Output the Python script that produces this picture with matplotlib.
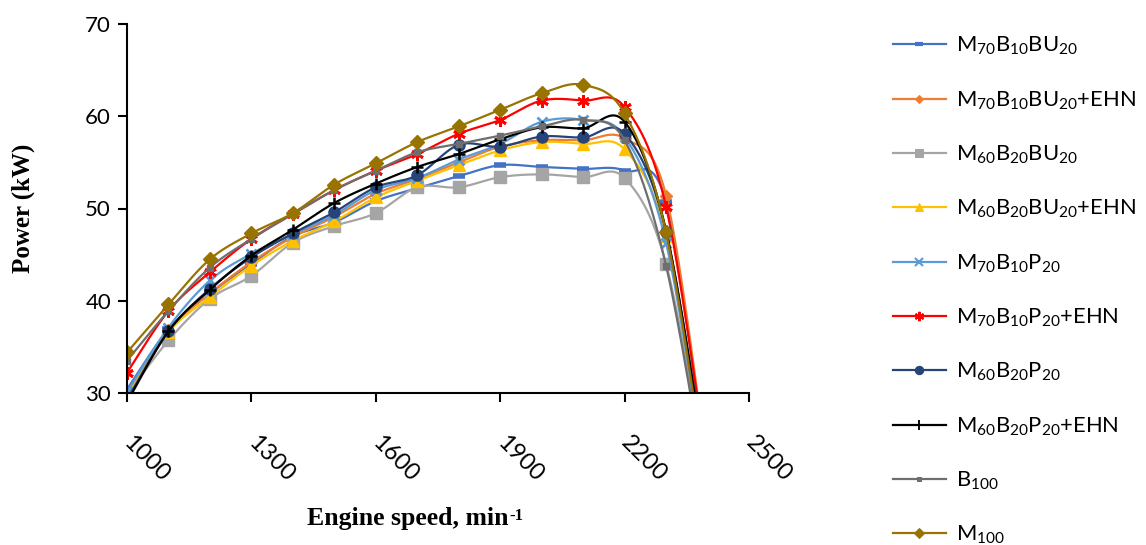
#!/usr/bin/env python

import numpy as np
import matplotlib
matplotlib.use('Agg')
import matplotlib.pyplot as plt

plt.rcParams['font.family'] = ['Lato', 'DejaVu Sans']
plt.rcParams['mathtext.default'] = 'regular'

# engine speeds (min-1)
speeds = [1000, 1100, 1200, 1300, 1400, 1500, 1600, 1700, 1800, 1900, 2000, 2100, 2200, 2300, 2400]

# power (kW) for each fuel
m70b10bu20     = [30.4, 36.9, 40.8, 44.0, 47.0, 48.5, 50.8, 52.2, 53.5, 54.7, 54.5, 54.3, 54.1, 50.7, 21.0]
m70b10bu20Ehn  = [29.8, 36.8, 40.8, 44.2, 46.9, 49.1, 51.6, 53.2, 55.0, 56.7, 57.4, 57.4, 57.6, 51.4, 22.0]
m60b20bu20     = [29.8, 35.7, 40.2, 42.7, 46.3, 48.1, 49.5, 52.3, 52.3, 53.4, 53.7, 53.4, 53.3, 44.0, 20.0]
m60b20bu20Ehn  = [29.6, 36.6, 40.4, 43.8, 46.5, 48.6, 51.2, 53.0, 54.7, 56.3, 57.2, 57.0, 56.4, 47.0, 20.0]
m70b10p20      = [30.1, 37.1, 42.2, 45.1, 47.2, 49.3, 52.0, 53.3, 55.3, 57.0, 59.4, 59.6, 57.8, 46.3, 19.5]
m70b10p20Ehn   = [32.2, 38.9, 43.1, 46.7, 49.4, 52.0, 54.1, 55.9, 58.1, 59.6, 61.7, 61.7, 61.0, 50.2, 22.0]
m60b20p20      = [29.3, 36.7, 41.3, 44.7, 47.3, 49.6, 52.3, 53.6, 56.9, 56.7, 57.8, 57.7, 58.1, 47.5, 20.5]
m60b20p20Ehn   = [29.0, 36.7, 41.2, 44.9, 47.7, 50.6, 52.7, 54.5, 55.9, 57.5, 58.8, 58.7, 59.4, 47.6, 21.0]
b100           = [33.5, 38.9, 43.6, 46.7, 49.4, 52.0, 54.1, 56.1, 57.0, 57.9, 58.9, 59.6, 57.4, 43.8, 19.0]
m100           = [34.4, 39.6, 44.5, 47.3, 49.5, 52.6, 54.9, 57.2, 58.9, 60.7, 62.5, 63.4, 60.3, 47.4, 19.5]

labels = [r'M$_{70}$B$_{10}$BU$_{20}$', r'M$_{70}$B$_{10}$BU$_{20}$+EHN',
          r'M$_{60}$B$_{20}$BU$_{20}$', r'M$_{60}$B$_{20}$BU$_{20}$+EHN',
          r'M$_{70}$B$_{10}$P$_{20}$', r'M$_{70}$B$_{10}$P$_{20}$+EHN',
          r'M$_{60}$B$_{20}$P$_{20}$', r'M$_{60}$B$_{20}$P$_{20}$+EHN',
          r'B$_{100}$', r'M$_{100}$']

xTicks = [1000, 1300, 1600, 1900, 2200, 2500]
yTicks = [30, 40, 50, 60, 70]


def smoothCurve(xs, ys, nSub=30):
  # excel-like smoothed line (catmull-rom through the points)
  pts = np.column_stack([xs, ys]).astype(float)
  pad = np.vstack([pts[0], pts, pts[-1]])
  t = np.linspace(0, 1, nSub)[:, None]
  out = []
  for i in range(1, len(pad) - 2):
    p0, p1, p2, p3 = pad[i-1], pad[i], pad[i+1], pad[i+2]
    m1, m2 = (p2 - p0) / 2.0, (p3 - p1) / 2.0
    h00 = 2*t**3 - 3*t**2 + 1
    h10 = t**3 - 2*t**2 + t
    h01 = -2*t**3 + 3*t**2
    h11 = t**3 - t**2
    out.append(h00*p1 + h10*m1 + h01*p2 + h11*m2)
  out = np.vstack(out)
  return out[:, 0], out[:, 1]


def doPlot(seriesList):
  fig = plt.figure(figsize=(11.46, 5.45), dpi=100)
  ax = fig.add_axes([127/1146, 1 - 393/545, 622/1146, 369/545])

  styles = [
    dict(color='#4472C4', marker='_', ms=8, mew=4),
    dict(color='#ED7D31', marker='D', ms=6, mew=1),
    dict(color='#A5A5A5', marker='s', ms=8, mew=1),
    dict(color='#FFC000', marker='^', ms=8, mew=1),
    dict(color='#5B9BD5', marker='x', ms=7, mew=2),
    dict(color='#FF0000', marker=(6, 2, 0), ms=9, mew=2),
    dict(color='#264478', marker='o', ms=8, mew=1),
    dict(color='#000000', marker='+', ms=9, mew=1.8),
    dict(color='#6E6E6E', marker='s', ms=4, mew=1),
    dict(color='#997300', marker='D', ms=7, mew=1),
  ]

  handles = []
  for ys, lab, st in zip(seriesList, labels, styles):
    sx, sy = smoothCurve(speeds, ys)
    ax.plot(sx, sy, '-', color=st['color'], linewidth=1.6)
    ax.plot(speeds, ys, linestyle='none', marker=st['marker'], color=st['color'],
            markersize=st['ms'], markeredgewidth=st['mew'])
    h, = ax.plot([], [], '-', color=st['color'], linewidth=1.6, marker=st['marker'],
                 markersize=st['ms'] * 0.75, markeredgewidth=st['mew'] * 0.75)
    handles.append(h)

  ax.set_xlim(1000, 2500)
  ax.set_ylim(30, 70)
  ax.set_xticks(xTicks)
  ax.set_yticks(yTicks)
  ax.set_xticklabels([str(v) for v in xTicks], rotation=-45, ha='left', va='center',
                     rotation_mode='anchor', fontsize=17)
  ax.set_yticklabels([str(v) for v in yTicks], fontsize=16)
  ax.tick_params(axis='x', direction='out', length=6.5, width=1.5, pad=27)
  ax.tick_params(axis='y', direction='out', length=6.5, width=1.5, pad=5)
  for side in ['top', 'right']:
    ax.spines[side].set_visible(False)
  for side in ['left', 'bottom']:
    ax.spines[side].set_linewidth(1.5)

  fig.text(0.020, 1 - 208/545, 'Power (kW)', rotation=90, ha='center', va='center',
           family='Liberation Serif', fontweight='bold', fontsize=18)

  # x label with a hyphen superscript, as in the original
  xl = fig.text(307/1146, 1 - 518/545, 'Engine speed, min', ha='left', va='center',
                family='Liberation Serif', fontweight='bold', fontsize=18.5)
  fig.canvas.draw()
  bb = xl.get_window_extent()
  fig.text((bb.x1 + 1) / 1146, (bb.y1 - 2) / 545, '-1', ha='left', va='top',
           family='Liberation Serif', fontweight='bold', fontsize=12)

  fig.legend(handles, labels, loc='upper left', bbox_to_anchor=(893/1146, 1 - 35/545),
             frameon=False, fontsize=15.8, handlelength=2.4, handletextpad=0.45,
             labelspacing=1.46, borderpad=0, borderaxespad=0)
  return fig


#=====================================================================
#   main
#=====================================================================
def main():
  seriesList = [m70b10bu20, m70b10bu20Ehn, m60b20bu20, m60b20bu20Ehn, m70b10p20,
                m70b10p20Ehn, m60b20p20, m60b20p20Ehn, b100, m100]
  fig = doPlot(seriesList)
  fig.savefig('out.png', dpi=100)

if __name__ == "__main__":
  main()
